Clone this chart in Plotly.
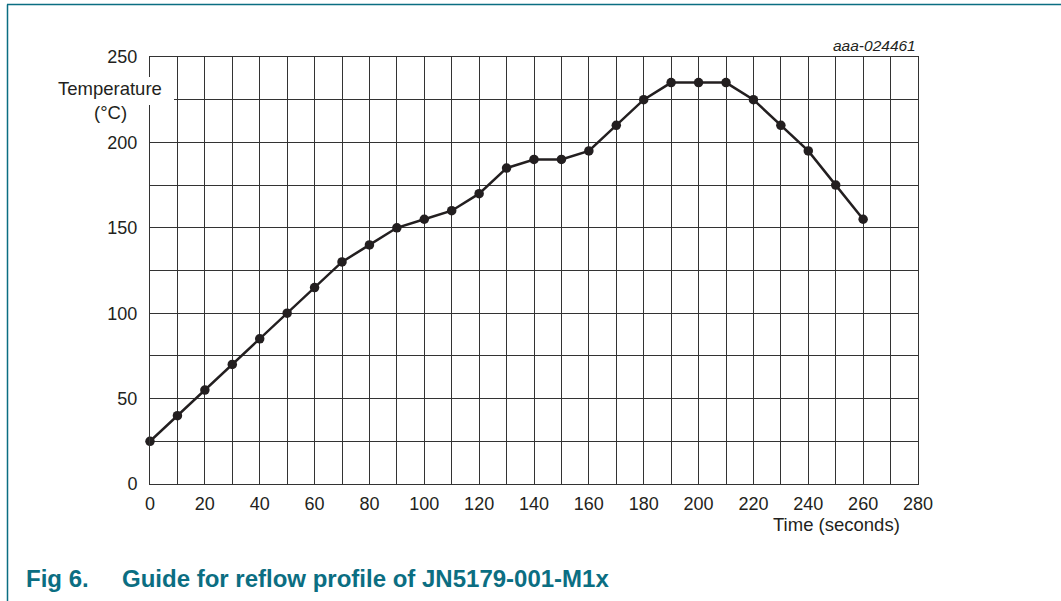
import plotly.graph_objects as go

time_s = [0, 10, 20, 30, 40, 50, 60, 70, 80, 90, 100, 110, 120, 130, 140, 150,
          160, 170, 180, 190, 200, 210, 220, 230, 240, 250, 260]
temp_c = [25, 40, 55, 70, 85, 100, 115, 130, 140, 150, 155, 160, 170, 185, 190, 190,
          195, 210, 225, 235, 235, 235, 225, 210, 195, 175, 155]
x_ticks = list(range(0, 281, 20))
y_ticks = list(range(0, 251, 50))

W, H = 1061, 601
L, R, T, B = 150, 918, 57, 484
TEAL = "#0b6e82"
INK = "#231f20"
FONT = "Liberation Sans, Arial, sans-serif"

def px(x):
    return (x - L) / (R - L)

def py(y):
    return (B - y) / (B - T)

fig = go.Figure()
fig.add_trace(go.Scatter(
    x=time_s, y=temp_c, mode="lines+markers",
    line=dict(color=INK, width=2.5),
    marker=dict(color=INK, size=9.5),
    showlegend=False, cliponaxis=False,
))

axis_common = dict(
    showgrid=True, gridcolor="#333333", gridwidth=1,
    showline=True, linecolor="#333333", linewidth=1, mirror=True,
    zeroline=False, ticks="", tickfont=dict(family=FONT, size=18, color=INK),
    fixedrange=True,
)
fig.update_xaxes(range=[0, 280], tickmode="array", tickvals=list(range(0, 281, 10)),
                 ticktext=[str(v) if v in x_ticks else "" for v in range(0, 281, 10)],
                 ticklabelstandoff=3, **axis_common)
fig.update_yaxes(range=[0, 250], tickmode="array", tickvals=list(range(0, 251, 25)),
                 ticktext=[str(v) if v in y_ticks else "" for v in range(0, 251, 25)],
                 ticklabelstandoff=8, **axis_common)

def note(text, x, y, size=18.5, color=INK, xanchor="center"):
    return dict(text=text, xref="paper", yref="paper", x=px(x), y=py(y),
                xanchor=xanchor, yanchor="middle", showarrow=False,
                font=dict(family=FONT, size=size, color=color))

fig.update_layout(
    width=W, height=H,
    margin=dict(l=L, r=W - R, t=T, b=H - B, autoexpand=False),
    paper_bgcolor="white", plot_bgcolor="white",
    font=dict(family=FONT, color=INK),
    shapes=[
        # white box behind y-axis label
        dict(type="rect", xref="paper", yref="paper",
             x0=px(52), x1=px(174), y0=py(105), y1=py(77),
             fillcolor="white", line=dict(width=0), layer="above"),
        # teal frame
        dict(type="line", xref="paper", yref="paper",
             x0=px(7), x1=px(1061), y0=py(4.5), y1=py(4.5),
             line=dict(color=TEAL, width=1.5), layer="above"),
        dict(type="line", xref="paper", yref="paper",
             x0=px(7.5), x1=px(7.5), y0=py(4.5), y1=py(601),
             line=dict(color=TEAL, width=1.5), layer="above"),
    ],
    annotations=[
        note("Temperature", 110, 89),
        note("(°C)", 110, 112),
        note("Time (seconds)", 836, 524),
        note("<i>aaa-024461</i>", 918, 46, size=15.5, xanchor="right"),
        note("<b>Fig 6.</b>", 24, 578, size=24, color=TEAL, xanchor="left"),
        note("<b>Guide for reflow profile of JN5179-001-M1x</b>", 120, 578,
             size=24, color=TEAL, xanchor="left"),
    ],
)

fig.write_html("out.html", config={"displayModeBar": False},
               post_script="document.body.style.margin='0';")
